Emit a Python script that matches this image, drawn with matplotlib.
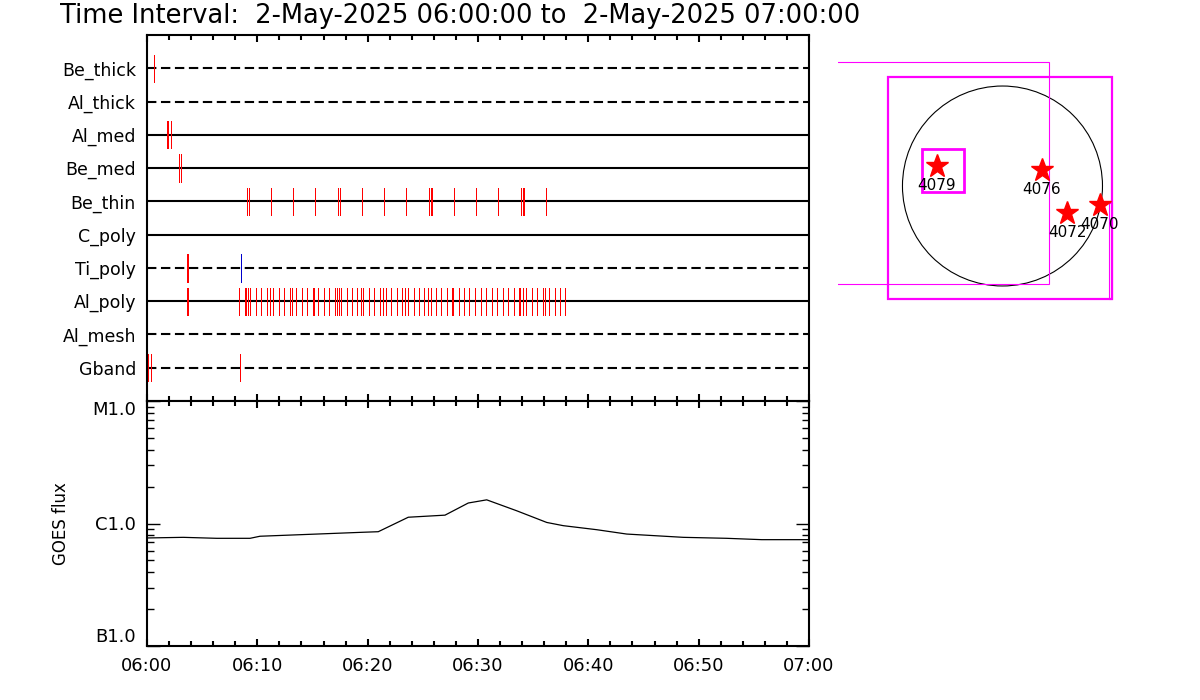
import numpy as np
import matplotlib
matplotlib.use("Agg")
import matplotlib.pyplot as plt
from matplotlib.patches import Rectangle, Circle

plt.rcParams['font.family'] = ['DejaVu Sans']

# ---------------- data ----------------
title = "Time Interval:  2-May-2025 06:00:00 to  2-May-2025 07:00:00"
rows = ["Be_thick", "Al_thick", "Al_med", "Be_med", "Be_thin",
        "C_poly", "Ti_poly", "Al_poly", "Al_mesh", "Gband"]
row_dashed = [True, True, False, False, False, False, True, False, True, True]

# event times in minutes after 06:00
ev_be_thick = [0.66]
ev_al_thick = []
ev_al_med = [1.84, 1.90, 2.20]
ev_be_med = [2.87, 2.93, 3.11]
ev_be_thin = [9.09, 9.27, 11.27, 13.26, 15.26, 17.34, 17.52, 19.51, 21.51, 23.50,
              25.59, 25.71, 25.86, 27.85, 29.85, 31.84, 33.93, 34.05, 34.20, 36.19]
ev_c_poly = []
ev_ti_poly = [3.65, 3.72]
ev_ti_poly_blue = [8.55]
ev_al_poly = [3.65, 3.72, 8.37, 8.91, 9.00, 9.18, 9.36, 9.91, 10.36, 10.90, 11.18,
              11.45, 11.99, 12.45, 12.99, 13.17, 13.53, 14.08, 14.53, 15.07, 15.16,
              15.53, 16.07, 16.52, 17.07, 17.25, 17.43, 17.61, 18.15, 18.61, 19.06,
              19.42, 19.60, 20.15, 20.60, 21.15, 21.42, 21.69, 22.14, 22.69, 23.14,
              23.41, 23.68, 24.23, 24.68, 25.13, 25.50, 25.77, 26.22, 26.67, 27.22,
              27.67, 27.76, 28.31, 28.76, 29.21, 29.76, 30.30, 30.75, 31.30, 31.75,
              32.29, 32.75, 33.29, 33.74, 33.83, 34.11, 34.38, 34.92, 35.38, 35.92,
              36.10, 36.46, 37.01, 37.46, 37.91]
ev_al_mesh = []
ev_gband = [0.05, 0.40, 8.46]
row_events = [ev_be_thick, ev_al_thick, ev_al_med, ev_be_med, ev_be_thin,
              ev_c_poly, ev_ti_poly, ev_al_poly, ev_al_mesh, ev_gband]

# GOES flux (W/m^2) vs minutes after 06:00
goes_t = [0.0, 3.29, 6.32, 9.34, 10.24, 15.38, 19.40, 20.96, 23.68, 27.01, 29.12,
          30.79, 33.51, 36.23, 37.73, 40.76, 43.48, 48.61, 52.54, 55.71, 60.0]
goes_flux = [7.62e-7, 7.71e-7, 7.57e-7, 7.57e-7, 7.87e-7, 8.20e-7, 8.47e-7, 8.57e-7,
             1.125e-6, 1.17e-6, 1.47e-6, 1.56e-6, 1.27e-6, 1.02e-6, 9.6e-7, 8.9e-7,
             8.2e-7, 7.71e-7, 7.57e-7, 7.38e-7, 7.38e-7]
goes_ticks = [1e-7, 1e-6, 1e-5]
goes_labels = ["B1.0", "C1.0", "M1.0"]
time_ticks = [0, 10, 20, 30, 40, 50, 60]
time_labels = ["06:00", "06:10", "06:20", "06:30", "06:40", "06:50", "07:00"]

# solar map (arcsec)
sun_radius = 951.0
ar_names = ["4079", "4076", "4072", "4070"]
ar_x = [-626, 373, 616, 927]
ar_y = [190, 152, -260, -181]
# boxes: x0, y0, x1, y1, linewidth
box_x0 = [-1092, -2600, -768, 1016]
box_y0 = [-1078, -935, -54, -1073]
box_x1 = [1038, 442, -366, 1038]
box_y1 = [1034, 1176, 349, -162]
box_lw = [1.6, 0.8, 2.0, 0.8]

# ---------------- figure ----------------
W, H = 1200, 700
fig = plt.figure(figsize=(12, 7), dpi=100)

def fx(px):
    return px / W

def fy(py):
    return 1 - py / H

# top panel
ax1 = fig.add_axes([fx(147), fy(401), fx(809) - fx(147), fy(35) - fy(401)])
n = len(rows)
for i, (name, dashed, evs) in enumerate(zip(rows, row_dashed, row_events)):
    yv = n - 1 - i
    ls = (0, (4.5, 2.2)) if dashed else '-'
    ax1.plot([0, 60], [yv, yv], color='black', lw=1.5, ls=ls, zorder=2)
    if evs:
        ax1.vlines(evs, yv - 0.41, yv + 0.41, color='#ff0000', lw=0.6,
                   antialiased=False, zorder=3)
    if name == "Ti_poly":
        ax1.vlines(ev_ti_poly_blue, yv - 0.41, yv + 0.41, color='#0000cc', lw=0.6,
                   antialiased=False, zorder=3)
ax1.set_xlim(0, 60)
ax1.set_ylim(-1, n)
ax1.set_yticks(range(n))
ax1.set_yticklabels(rows[::-1], fontsize=12.5)
ax1.tick_params(axis='y', length=0, pad=8)
ax1.set_xticks(time_ticks)
ax1.set_xticks(np.arange(0, 61, 2), minor=True)
ax1.tick_params(axis='x', which='both', direction='in', top=True, bottom=True,
                labelbottom=False, width=1.5)
ax1.tick_params(axis='x', which='major', length=5)
ax1.tick_params(axis='x', which='minor', length=3.5)
for s in ax1.spines.values():
    s.set_linewidth(1.5)

# bottom panel
ax2 = fig.add_axes([fx(147), fy(646), fx(809) - fx(147), fy(401) - fy(646)])
ax2.plot(goes_t, goes_flux, color='black', lw=0.9)
ax2.set_yscale('log')
ax2.set_xlim(0, 60)
ax2.set_ylim(1e-7, 1e-5)
ax2.set_yticks(goes_ticks)
ax2.set_yticklabels(goes_labels, fontsize=13)
ylabs = ax2.get_yticklabels()
ylabs[0].set_verticalalignment('bottom')
ylabs[2].set_verticalalignment('top')
ax2.yaxis.set_minor_locator(matplotlib.ticker.LogLocator(base=10, subs=np.arange(2, 10)))
ax2.yaxis.set_minor_formatter(matplotlib.ticker.NullFormatter())
ax2.tick_params(axis='y', which='both', direction='in', left=True, right=True, width=1.0)
ax2.tick_params(axis='y', which='major', length=9.5, pad=8)
ax2.tick_params(axis='y', which='minor', length=5)
ax2.set_xticks(time_ticks)
ax2.set_xticklabels(time_labels, fontsize=13)
ax2.set_xticks(np.arange(0, 61, 2), minor=True)
ax2.tick_params(axis='x', which='both', direction='in', top=True, bottom=True, width=1.5)
ax2.tick_params(axis='x', which='major', length=5, pad=8)
ax2.tick_params(axis='x', which='minor', length=3.5)
ax2.set_ylabel("GOES flux", fontsize=12, labelpad=16)
for s in ax2.spines.values():
    s.set_linewidth(1.5)

# title
fig.text(fx(60), fy(16), title, fontsize=18.5, ha='left', va='center')

# solar map
ax3 = fig.add_axes([fx(838), fy(350), fx(1168) - fx(838), fy(22) - fy(350)])
ax3.set_xlim(-1564, 1574)
ax3.set_ylim(-1560, 1560)
ax3.axis('off')
ax3.add_patch(Circle((0, 0), sun_radius, fill=False, ec='black', lw=0.8))
for x0, y0, x1, y1, lw in zip(box_x0, box_y0, box_x1, box_y1, box_lw):
    ax3.add_patch(Rectangle((x0, y0), x1 - x0, y1 - y0, fill=False, ec='#ff00ff', lw=lw))
ax3.plot(ar_x, ar_y, ls='none', marker='*', ms=17, color='#ff0000', mec='#ff0000')
for name, x, y in zip(ar_names, ar_x, ar_y):
    ax3.text(x, y - 185, name, fontsize=11, ha='center', va='center')

fig.savefig("out.png", dpi=100)
